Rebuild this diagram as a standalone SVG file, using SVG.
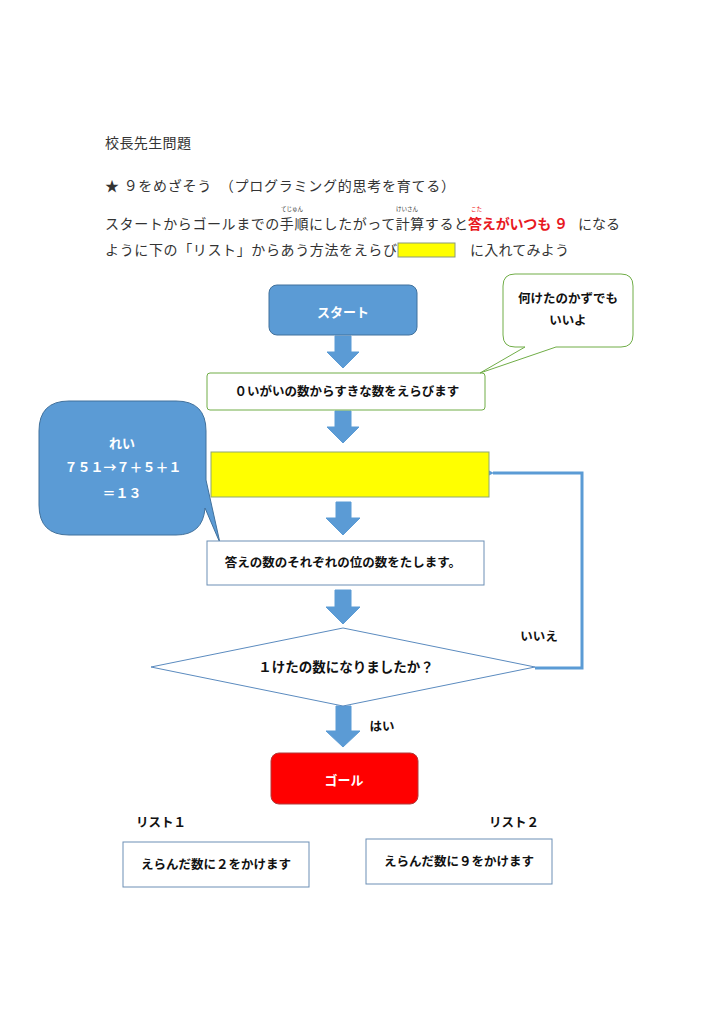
<svg xmlns="http://www.w3.org/2000/svg" width="724" height="1024" viewBox="0 0 724 1024">
<defs>
<style>
.hd{font-family:"Noto Sans CJK JP","Noto Sans",sans-serif;font-size:14px;fill:#333}
.rb{font-family:"Noto Sans CJK JP",sans-serif;font-size:5.5px;fill:#333}
.lb{font-family:"Noto Sans CJK JP","Noto Sans",sans-serif;font-size:12.5px;font-weight:bold;fill:#111;text-anchor:middle}
.wl{font-family:"Noto Sans CJK JP","Noto Sans",sans-serif;font-size:13px;font-weight:bold;fill:#fff;text-anchor:middle}
.ba{fill:#5b9bd5;stroke:#5b9bd5;stroke-width:1}
</style>
<marker id="ah" markerWidth="8" markerHeight="8" refX="1" refY="4" orient="auto" markerUnits="userSpaceOnUse" viewBox="0 0 8 8">
<path d="M8,0 L0,4 L8,8 Z" fill="#5b9bd5"/>
</marker>
</defs>
<rect width="724" height="1024" fill="#fff"/>

<g id="header">
<text class="hd" x="105" y="148" textLength="86">校長先生問題</text>
<text class="hd" x="105" y="191" textLength="350">★ ９をめざそう　（プログラミング的思考を育てる）</text>
<text class="rb" x="281" y="211">てじゅん</text>
<text class="rb" x="396" y="211">けいさん</text>
<text class="rb" x="471" y="211" style="fill:#e00">こた</text>
<text class="hd" x="105" y="229" textLength="363">スタートからゴールまでの手順にしたがって計算すると</text>
<text class="hd" x="468" y="229" style="fill:#e8191f;font-weight:bold" textLength="100">答えがいつも ９</text>
<text class="hd" x="578" y="229" textLength="42">になる</text>
<text class="hd" x="105" y="255" textLength="292">ように下の「リスト」からあう方法をえらび</text>
<rect x="398" y="243" width="57" height="14" fill="#ffff00" stroke="#8a9a7a" stroke-width="1"/>
<text class="hd" x="470" y="255" textLength="99">に入れてみよう</text>
</g>

<g id="connectors">
<path class="ba" d="M335,336 h16 v16 h8 L343,368 L327,352 h8 Z"/>
<path class="ba" d="M335,411 h16 v16 h8 L343,443 L327,427 h8 Z"/>
<path class="ba" d="M336,502 h15 v16 h9 L343,535 L326,518 h10 Z"/>
<path class="ba" d="M335,590 h16 v17 h9 L343,624 L326,607 h9 Z"/>
<path class="ba" d="M336,706 h15 v25 h9 L343,747 L326,731 h10 Z"/>
<polyline points="535,668 582,668 582,473 493,473" fill="none" stroke="#5b9bd5" stroke-width="3" marker-end="url(#ah)"/>
<text class="lb" x="539" y="641">いいえ</text>
<text class="lb" x="382" y="731">はい</text>
</g>

<g id="start">
<rect x="269" y="285" width="148" height="50" rx="8" fill="#5b9bd5" stroke="#41719c" stroke-width="1"/>
<text class="wl" x="343" y="317">スタート</text>
</g>

<g id="choose">
<rect x="207" y="373" width="278" height="37" rx="3" fill="#fff" stroke="#70ad47" stroke-width="1"/>
<text class="lb" x="347" y="396">０いがいの数からすきな数をえらびます</text>
</g>

<g id="note">
<path d="M515,274 H621 Q633,274 633,286 V335 Q633,347 621,347 H556 L480,373 L525,347 H515 Q503,347 503,335 V286 Q503,274 515,274 Z" fill="#fff" stroke="#70ad47" stroke-width="1"/>
<text class="lb" x="568" y="303">何けたのかずでも</text>
<text class="lb" x="568" y="325">いいよ</text>
</g>

<g id="example">
<path d="M69,401 H176 Q206,401 206,431 V480 L220,543 L205,508 Q203,535 176,535 H69 Q39,535 39,505 V431 Q39,401 69,401 Z" fill="#5b9bd5" stroke="#41719c" stroke-width="1"/>
<text class="wl" x="122" y="448">れい</text>
<text class="wl" x="123" y="472">７５１→７＋５＋１</text>
<text class="wl" x="122" y="498">＝１３</text>
</g>

<g id="blank">
<rect x="211" y="452" width="278" height="45" fill="#ffff00" stroke="#8fa870" stroke-width="1"/>
</g>

<g id="sum">
<rect x="207" y="541" width="277" height="44" fill="#fff" stroke="#6d8fb5" stroke-width="1"/>
<text class="lb" x="343" y="567">答えの数のそれぞれの位の数をたします。</text>
</g>

<g id="decision">
<polygon points="151,667 343,628 535,667 343,706" fill="#fff" stroke="#5b8bbf" stroke-width="1"/>
<text class="lb" x="346" y="672" style="font-size:13.5px">１けたの数になりましたか？</text>
</g>

<g id="goal">
<rect x="271" y="753" width="147" height="51" rx="8" fill="#ff0000" stroke="#b23a3a" stroke-width="1"/>
<text class="wl" x="344" y="785">ゴール</text>
</g>

<g id="list1">
<text class="lb" x="161" y="827">リスト１</text>
<rect x="123" y="842" width="186" height="45" fill="#fff" stroke="#6d8fb5" stroke-width="1"/>
<text class="lb" x="216" y="869">えらんだ数に２をかけます</text>
</g>

<g id="list2">
<text class="lb" x="514" y="827">リスト２</text>
<rect x="366" y="839" width="186" height="45" fill="#fff" stroke="#6d8fb5" stroke-width="1"/>
<text class="lb" x="459" y="866">えらんだ数に９をかけます</text>
</g>
</svg>
